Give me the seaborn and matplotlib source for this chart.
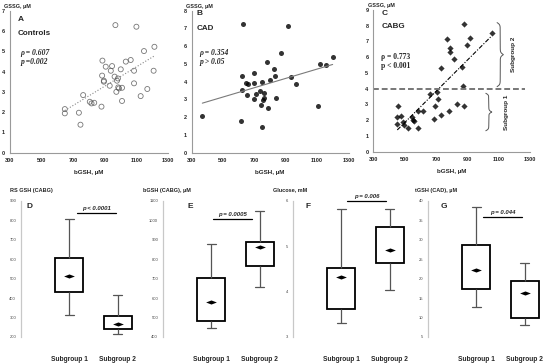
"""
Glutathione panels: GSSG vs bGSH scatter (A-C) and subgroup box plots (D-G).
"""
import numpy as np
import pandas as pd
import matplotlib
matplotlib.use("Agg")
import matplotlib.pyplot as plt
import seaborn as sns

# ── 1. Data: scatter panels (bGSH, µM vs GSSG, µM) ─────────────
a_bgsh = [647, 647, 736, 746, 763, 805, 816, 833, 885, 883, 879, 894, 894, 906, 931,
          938, 946, 967, 962, 973, 977, 983, 985, 990, 1001, 1009, 1009, 1033, 1064,
          1085, 1085, 1100, 1127, 1148, 1169, 1209, 1214]
a_gssg = [2.15, 1.94, 1.97, 1.38, 2.84, 2.51, 2.43, 2.46, 4.54, 3.80, 2.27, 3.55, 3.50,
          4.24, 3.30, 4.04, 4.27, 6.29, 3.75, 3.00, 3.55, 3.66, 3.22, 3.17, 4.11, 3.20,
          2.55, 4.49, 4.57, 4.04, 3.42, 6.21, 2.79, 5.01, 3.14, 4.04, 5.22]

b_bgsh = [369, 613, 620, 624, 645, 652, 658, 698, 700, 700, 711, 736, 743, 747, 751,
          754, 760, 760, 781, 785, 800, 827, 832, 838, 872, 934, 964, 1104, 1119, 1157,
          1199, 630, 917]
b_gssg = [2.07, 1.80, 4.32, 3.53, 3.91, 3.25, 3.85, 4.51, 3.94, 3.01, 3.29, 3.49, 2.69,
          1.46, 4.00, 2.97, 3.06, 3.38, 5.13, 2.50, 4.10, 4.70, 4.32, 3.06, 5.60, 4.28,
          3.85, 2.63, 4.98, 4.94, 5.41, 7.25, 7.14]

c_bgsh = [881, 1055, 772, 919, 789, 896, 791, 817, 868, 732, 872, 460, 453, 477, 453,
          488, 498, 523, 545, 555, 562, 583, 587, 615, 662, 694, 687, 704, 715, 732,
          781, 836, 881]
c_gssg = [8.11, 7.56, 7.14, 7.24, 6.61, 6.78, 6.31, 5.89, 5.40, 5.30, 4.17, 2.92, 2.19,
          2.29, 1.76, 1.91, 1.70, 1.49, 2.19, 2.01, 1.95, 2.60, 1.49, 2.60, 3.67, 2.90,
          2.08, 3.77, 3.35, 2.33, 2.59, 3.03, 2.90]

# ── 2. Data: box panels, [min, q1, median, q3, max] ─────────────
groups = ["Subgroup 1", "Subgroup 2"]
d_sub1, d_sub2 = [311, 429, 511, 607, 804], [213, 239, 266, 309, 414]
e_sub1, e_sub2 = [444, 484, 580, 704, 876], [657, 766, 862, 886, 1049]
f_sub1, f_sub2 = [3.31, 3.62, 4.33, 4.52, 5.82], [4.03, 4.62, 4.91, 5.43, 5.82]
g_sub1, g_sub2 = [12.7, 17.2, 22.1, 28.6, 38.5], [8.2, 9.9, 16.2, 19.5, 23.9]

sns.set_style("white")
plt.rcParams["font.family"] = ["Liberation Sans", "DejaVu Sans"]

W, H = 550, 363
fig = plt.figure(figsize=(W / 100, H / 100), dpi=100)


def px_axes(left, top, right, bottom):
    return fig.add_axes([left / W, 1 - bottom / H, (right - left) / W, (bottom - top) / H])


SERIF = ["Liberation Serif", "DejaVu Serif"]


def style_top(ax, ymax):
    ax.set_xlim(300, 1300)
    ax.set_ylim(0, ymax)
    ax.set_xticks(range(300, 1301, 200))
    ax.set_yticks(range(0, ymax + 1))
    for s in ["top", "right"]:
        ax.spines[s].set_visible(False)
    for s in ["left", "bottom"]:
        ax.spines[s].set_color("#9a9a9a")
        ax.spines[s].set_linewidth(0.8)
    ax.tick_params(labelsize=4, length=1.5, width=0.6, color="#9a9a9a", pad=2)
    for lab in ax.get_xticklabels() + ax.get_yticklabels():
        lab.set_fontweight("bold")
    ax.set_xlabel("bGSH, µM", fontsize=4.5, fontweight="bold", labelpad=5)
    ax.set_ylabel("")
    ax.text(-0.035, 1.033, "GSSG, µM", transform=ax.transAxes, fontsize=4,
            fontweight="bold", ha="left", va="center")


def brace(ax, x, y0, y1, w, beta=60.0):
    t = np.linspace(0, 1, 201)
    half = t[:101]
    bump = 1 / (1 + np.exp(-beta * (half - half[0]))) + 1 / (1 + np.exp(-beta * (half - half[-1])))
    bump = np.concatenate([bump, bump[-2::-1]]) - 0.5
    ax.plot(x + bump * w, y0 + t * (y1 - y0), color="#555555", lw=0.7)


# ── 3. Panel A ─────────────────────────────────────────────────
axA = px_axes(10, 10.7, 168, 152.7)
sns.regplot(x=a_bgsh, y=a_gssg, ax=axA, ci=None, truncate=True,
            scatter_kws=dict(s=13, facecolors="none", edgecolors="#555555", linewidths=0.6),
            line_kws=dict(color="#888888", lw=0.8, ls=":"))
style_top(axA, 7)
axA.text(350, 6.57, "A", fontsize=6, fontweight="bold", va="center")
axA.text(350, 5.89, "Controls", fontsize=5.8, fontweight="bold", va="center")
axA.text(366, 4.93, "ρ = 0.607", family=SERIF, fontsize=5.5, fontweight="bold",
         style="italic", va="center")
axA.text(366, 4.46, "p =0.002", family=SERIF, fontsize=5.5, fontweight="bold",
         style="italic", va="center")

# ── 4. Panel B ─────────────────────────────────────────────────
axB = px_axes(191.5, 10.7, 348.5, 152.7)
sns.regplot(x=b_bgsh, y=b_gssg, ax=axB, ci=None, truncate=True,
            scatter_kws=dict(s=13, color="black", linewidths=0),
            line_kws=dict(color="#7a7a7a", lw=0.8))
style_top(axB, 8)
axB.text(330, 7.85, "B", fontsize=6, fontweight="bold", va="center")
axB.text(330, 7.0, "CAD", fontsize=5.8, fontweight="bold", va="center")
axB.text(350, 5.63, "ρ = 0.354", family=SERIF, fontsize=5.5, fontweight="bold",
         style="italic", va="center")
axB.text(350, 5.13, "p > 0.05", family=SERIF, fontsize=5.5, fontweight="bold",
         style="italic", va="center")

# ── 5. Panel C ─────────────────────────────────────────────────
axC = px_axes(373.3, 10, 530, 151.7)
sns.regplot(x=c_bgsh, y=c_gssg, ax=axC, ci=None, truncate=True, marker="D",
            scatter_kws=dict(s=10, color="black", linewidths=0),
            line_kws=dict(color="black", lw=0.8, dashes=(4, 1.5, 1, 1.5)))
axC.axhline(4, xmin=0, xmax=0.97, color="#777777", lw=1.4, dashes=(3, 1.5))
style_top(axC, 9)
axC.text(352, 8.75, "C", fontsize=6, fontweight="bold", va="center")
axC.text(352, 7.94, "CABG", fontsize=5.8, fontweight="bold", va="center")
axC.text(352, 6.03, "ρ = 0.773", family=SERIF, fontsize=5.5, fontweight="bold", va="center")
axC.text(352, 5.44, "p < 0.001", family=SERIF, fontsize=5.5, fontweight="bold", va="center")
brace(axC, 1090, 4.13, 8.2, 40)
brace(axC, 1018, 1.33, 3.71, 38, beta=45)
axC.text(1192, 6.15, "Subgroup 2", rotation=90, fontsize=4.6, fontweight="bold",
         ha="center", va="center")
axC.text(1147, 2.5, "Subgroup 1", rotation=90, fontsize=4.6, fontweight="bold",
         ha="center", va="center")

# ── 6. Box panels D-G ──────────────────────────────────────────
diamond = [(-1, 0), (0, 0.38), (1, 0), (0, -0.38), (-1, 0)]

box_panels = [
    # left, title, title_x, letter, letter_x, sub1, sub2, ylim, step, p text, p line
    (21, "RS GSH (CABG)", -0.095, "D", 0.045, d_sub1, d_sub2, (200, 900), 100,
     "p < 0.0001", (0.16, 0.97, 838)),
    (163, "bGSH (CABG), µM", -0.17, "E", 0.215, e_sub1, e_sub2, (400, 1100), 100,
     "p = 0.0005", (0.04, 0.84, 1006)),
    (293, "Glucose, mM", -0.17, "F", 0.11, f_sub1, f_sub2, (3, 6), 1,
     "p = 0.006", (0.12, 0.92, 6.0)),
    (428, "tGSH (CAD), µM", -0.11, "G", 0.11, g_sub1, g_sub2, (5, 40), 5,
     "p = 0.044", (0.14, 0.95, 35.7)),
]

for left, title, tx, letter, lx, s1, s2, ylim, step, ptxt, (px0, px1, py) in box_panels:
    ax = px_axes(left, 200.7, left + 116, 337)
    df = pd.DataFrame({"group": [groups[0]] * len(s1) + [groups[1]] * len(s2),
                       "value": s1 + s2})
    sns.boxplot(data=df, x="group", y="value", ax=ax, whis=(0, 100), width=0.58,
                color="white", fliersize=0,
                boxprops=dict(edgecolor="black", linewidth=1.3, facecolor="white"),
                whiskerprops=dict(color="#555555", linewidth=0.9),
                capprops=dict(color="#555555", linewidth=0.9),
                medianprops=dict(visible=False))
    # narrow the caps
    for ln in ax.get_lines():
        xd, yd = np.asarray(ln.get_xdata(), float), np.asarray(ln.get_ydata(), float)
        if len(xd) == 2 and yd[0] == yd[1] and xd[0] != xd[1]:
            c = xd.mean()
            ln.set_xdata([c - 0.09, c + 0.09])
    ax.scatter([0, 1], [s1[2], s2[2]], marker=diamond, s=60, color="black",
               linewidths=0, zorder=5)
    ax.set_xlim(-1.0, 1.4)
    ax.set_ylim(*ylim)
    ticks = np.arange(ylim[0], ylim[1] + step * 0.5, step)
    ax.set_yticks(ticks)
    ax.set_yticklabels([f"{t:g}" for t in ticks])
    ax.set_xlabel("")
    ax.set_ylabel("")
    for s in ["top", "right", "bottom"]:
        ax.spines[s].set_visible(False)
    ax.spines["left"].set_color("#c8c8c8")
    ax.spines["left"].set_linewidth(0.9)
    ax.tick_params(axis="y", labelsize=3, length=1.5, width=0.5, color="#9a9a9a",
                   labelcolor="#444444", pad=2)
    ax.tick_params(axis="x", length=0, pad=14, labelsize=4.8)
    for lab in ax.get_xticklabels():
        lab.set_fontweight("bold")
    ax.text(tx, 1.078, title, transform=ax.transAxes, fontsize=4, fontweight="bold",
            ha="left", va="center")
    ax.text(lx, 0.955, letter, transform=ax.transAxes, fontsize=6, fontweight="bold",
            ha="left", va="center")
    ax.plot([px0, px1], [py, py], color="black", lw=0.9, clip_on=False)
    ax.annotate(ptxt, xy=((px0 + px1) / 2, py), xytext=(0, 1.5), textcoords="offset points",
                ha="center", va="bottom", fontsize=4.3, fontweight="bold", style="italic",
                annotation_clip=False)

plt.savefig("out.png", dpi=100)
